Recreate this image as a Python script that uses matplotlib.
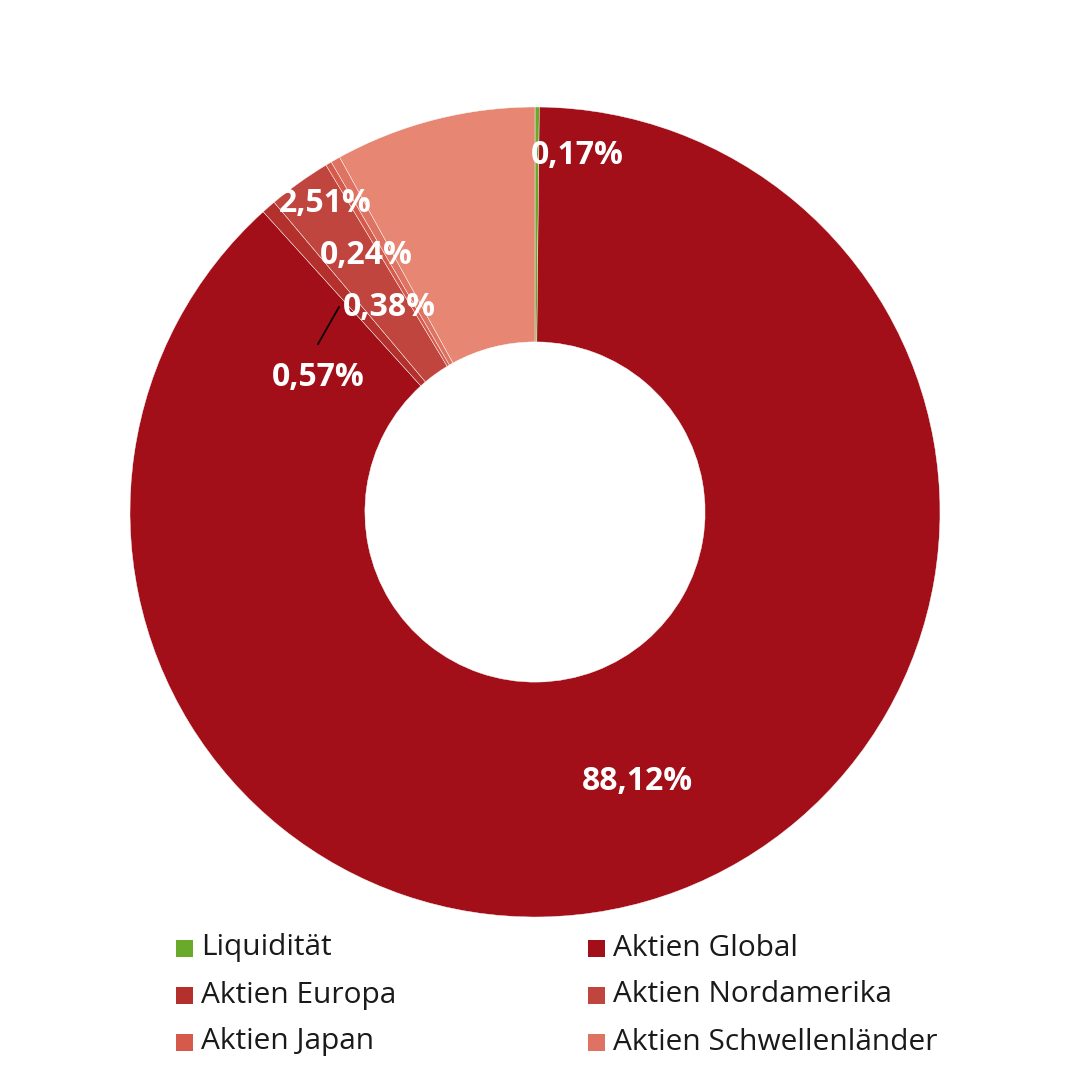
import matplotlib.pyplot as plt
from matplotlib.patches import Rectangle

# values in percent, clockwise from 12 o'clock
categories = ["Liquidität", "Aktien Global", "Aktien Europa", "Aktien Nordamerika",
              "Aktien Japan", "Aktien Schwellenländer", ""]
values = [0.17, 88.12, 0.57, 2.51, 0.24, 0.38, 8.01]
labels = ["0,17%", "88,12%", "0,57%", "2,51%", "0,24%", "0,38%", ""]
colors = ["#6AAA2A", "#A20F18", "#B3302D", "#C0453F", "#D65A4C", "#DF7363", "#E68673"]

# label centres in pixels (x, y from top)
label_px = [(577, 155), (637, 781), (318, 377), (325, 203), (366, 256), (389, 308), None]

W = 1080
CX, CY, R = 535, 512, 405


def px(x, y):
    return (x - CX) / R, (CY - y) / R


fig = plt.figure(figsize=(10.8, 10.8), dpi=100)
ax = fig.add_axes([0, 0, 1, 1])

ax.pie(values, colors=colors, startangle=90, counterclock=False, radius=1,
       wedgeprops=dict(width=0.58, edgecolor="white", linewidth=0.3))

ax.set_xlim(-CX / R, (W - CX) / R)
ax.set_ylim(-(W - CY) / R, CY / R)
ax.set_aspect("equal")
ax.axis("off")

for lab, pos in zip(labels, label_px):
    if not lab:
        continue
    x, y = px(*pos)
    ax.text(x, y, lab, ha="center", va="center", color="white",
            fontsize=23, fontweight="bold", family="Open Sans")

# leader line for 0,57%
x0, y0 = px(318, 344)
x1, y1 = px(339, 307)
ax.plot([x0, x1], [y0, y1], color="black", lw=1.2)

# legend, two columns
col_x = [176, 588]
row_y = [948, 995, 1042]
sq = 17
for i, name in enumerate(categories[:6]):
    cx = col_x[i % 2]
    cy = row_y[i // 2]
    ax.add_patch(Rectangle((cx / W, (W - cy - sq / 2) / W), sq / W, sq / W,
                           transform=fig.transFigure, facecolor=colors[i],
                           edgecolor="none", zorder=5))
    fig.text((cx + sq + 8) / W, (W - cy) / W, name, ha="left", va="center",
             fontsize=21.5, color="#1a1a1a", family="Open Sans")

fig.savefig("out.png", dpi=100, facecolor="white")
